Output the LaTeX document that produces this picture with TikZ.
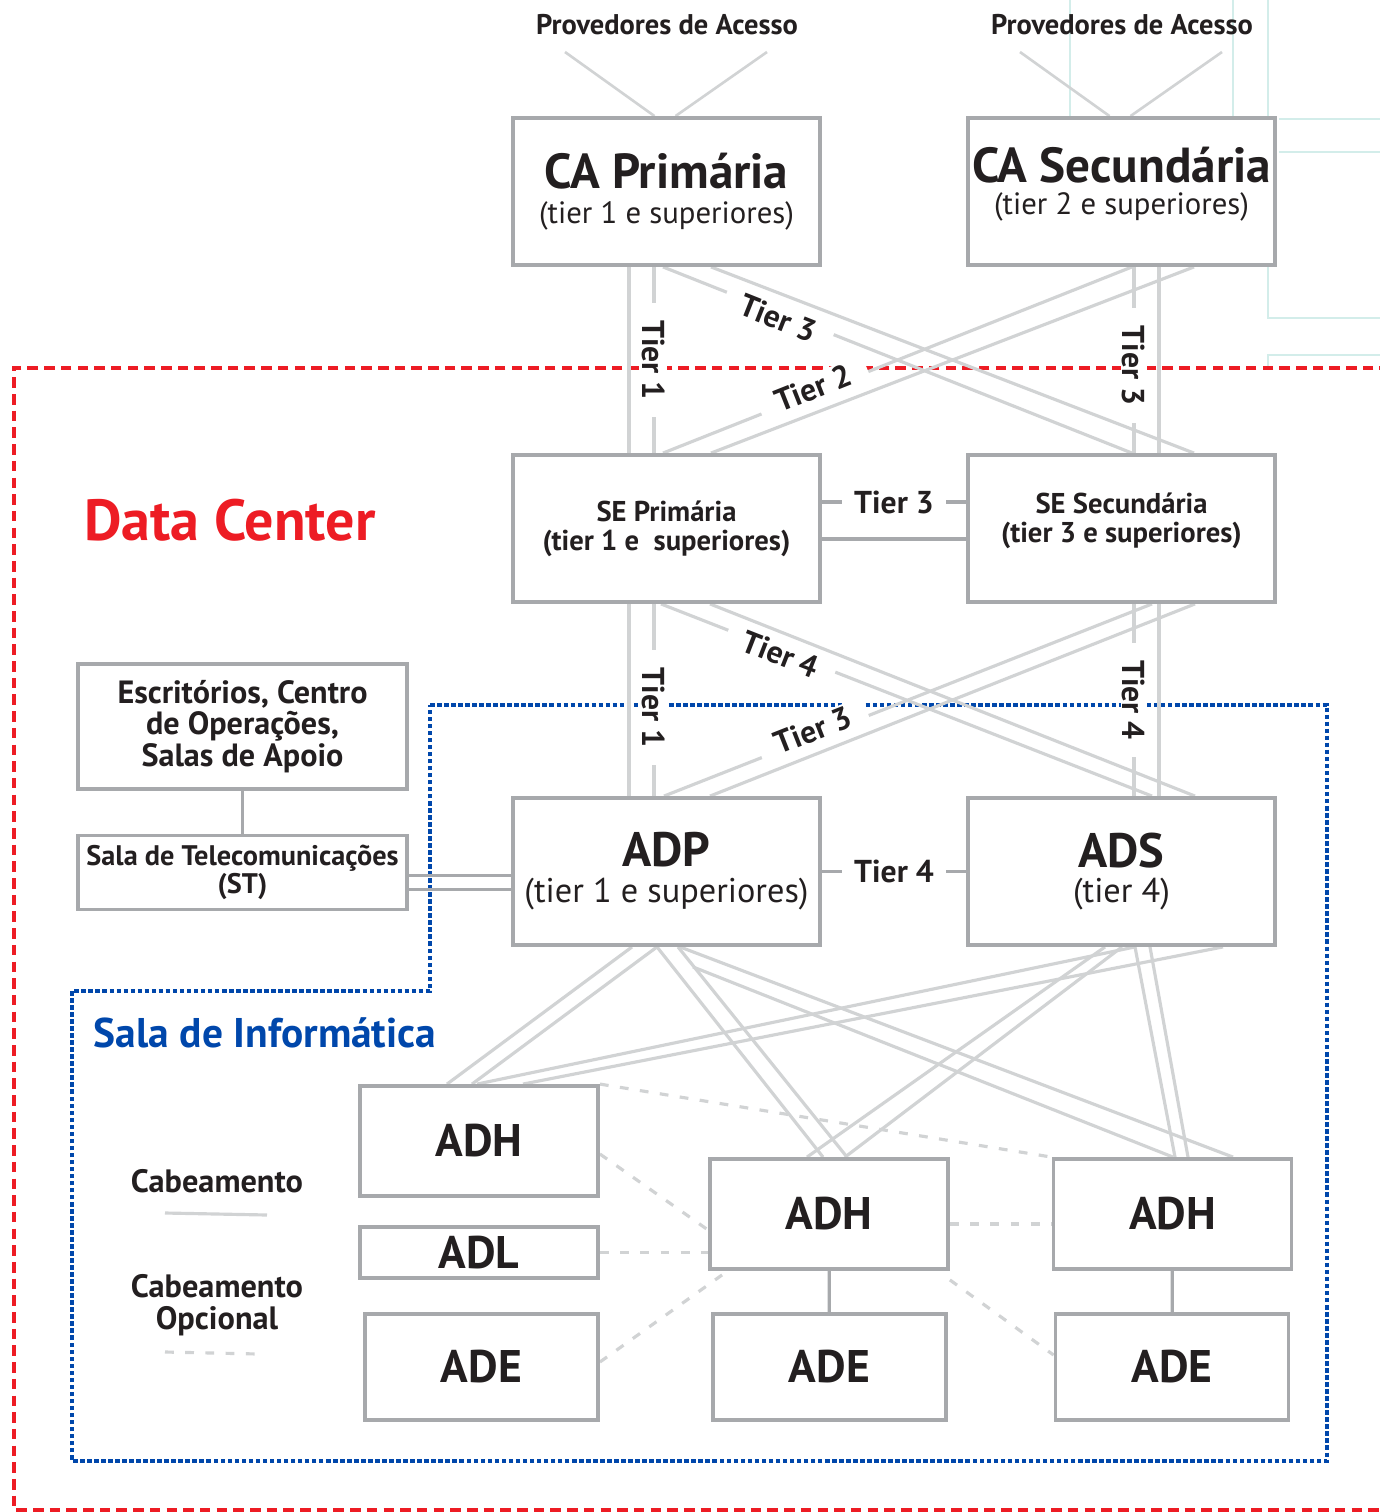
\documentclass[tikz,border=0pt]{standalone}
\usepackage{fontspec}
\setmainfont{PT Sans}
\definecolor{boxgray}{HTML}{A7A9AC}
\definecolor{cablegray}{HTML}{D1D3D4}
\definecolor{inkdark}{HTML}{231F20}
\definecolor{dcred}{HTML}{ED1C24}
\definecolor{roomblue}{HTML}{0047AB}
\definecolor{gridcyan}{HTML}{D3EDEA}
\usetikzlibrary{calc, backgrounds}
\newcommand{\ttlfont}{\fontsize{26}{28}\selectfont\bfseries}
\newcommand{\cafont}{\fontsize{28}{30}\selectfont\bfseries}
\newcommand{\adfont}{\fontsize{27.5}{30}\selectfont\bfseries}
\tikzset{
  box/.style={
    draw=boxgray, line width=2.2pt, fill=white, inner sep=0pt,
    align=center, text=inkdark
  },
  bigbox/.style={box, minimum width=6.14cm, minimum height=2.94cm},
  hbox/.style={box, minimum width=4.76cm, minimum height=2.2cm},
  ebox/.style={box, minimum width=4.66cm, minimum height=2.12cm},
  ttl/.style={font=\ttlfont},
  cable/.style={draw=cablegray, line width=1.8pt},
  optcable/.style={draw=cablegray, line width=1.8pt, dash pattern=on 5pt off 6.5pt},
  link/.style={draw=boxgray, line width=1.8pt},
  tier/.style={
    fill=white, text=inkdark, inner sep=1pt, inner xsep=10pt,
    font=\fontsize{18}{20}\selectfont\bfseries
  },
  prov/.style={text=inkdark, font=\fontsize{16.2}{18}\selectfont\bfseries},
  legend/.style={text=inkdark, align=center, font=\fontsize{18.4}{18}\selectfont\bfseries},
  dcborder/.style={draw=dcred, line width=2.2pt, dash pattern=on 6pt off 3.5pt},
  roomborder/.style={draw=roomblue, line width=1.8pt, dash pattern=on 2.6pt off 1.4pt},
  gridline/.style={draw=gridcyan, line width=1.1pt},
}

\begin{document}
\begin{tikzpicture}[x=0.02cm, y=-0.02cm]
  \useasboundingbox (0,0) rectangle (1380,1512);

  \node[prov] (prov1) at (667,25) {Provedores de Acesso};
  \node[prov] (prov2) at (1122,25) {Provedores de Acesso};

  \node[bigbox, font=\fontsize{17.5}{19.8}\selectfont] (capri) at (666.5,191.5)
    {{\cafont CA Primária}\\(tier 1 e superiores)};
  \node[bigbox, font=\fontsize{17.5}{18.7}\selectfont] (casec) at (1121.5,191.5)
    {{\cafont CA Secundária}\\(tier 2 e superiores)\\[-6.5pt]};

  \node[bigbox, font=\fontsize{16.3}{16.4}\selectfont\bfseries] (sepri) at (666.5,528.5)
    {SE Primária\\(tier 1 e\ \ superiores)};
  \node[bigbox, font=\fontsize{16.3}{16.4}\selectfont\bfseries] (sesec) at (1121.5,528.5)
    {SE Secundária\\(tier 3 e superiores)\\[-4pt]};

  \node[bigbox, font=\fontsize{19.5}{20.4}\selectfont] (adp) at (666.5,871.5)
    {{\adfont ADP}\\(tier 1 e superiores)};
  \node[bigbox, font=\fontsize{19.5}{20.4}\selectfont] (ads) at (1121.5,871.5)
    {{\adfont ADS}\\(tier 4)};

  \node[box, minimum width=6.58cm, minimum height=2.5cm,
        font=\fontsize{18.3}{17.9}\selectfont\bfseries] (esc) at (242.5,726.5)
    {Escritórios, Centro\\de Operações,\\Salas de Apoio};
  \node[box, minimum width=6.58cm, minimum height=1.48cm,
        font=\fontsize{16.1}{16}\selectfont\bfseries] (st) at (242.5,872.5)
    {Sala de Telecomunicações\\(ST)};

  \node[hbox, ttl] (adh1) at (479,1141) {ADH};
  \node[box, ttl, minimum width=4.76cm, minimum height=1.02cm] (adl) at (479,1252.5) {ADL};
  \node[ebox, ttl] (ade1) at (481.5,1367) {ADE};
  \node[hbox, ttl] (adh2) at (829,1214) {ADH};
  \node[ebox, ttl] (ade2) at (829.5,1367) {ADE};
  \node[hbox, ttl] (adh3) at (1172.5,1214) {ADH};
  \node[ebox, ttl] (ade3) at (1172,1367) {ADE};

  \node[text=dcred, font=\fontsize{33}{36}\selectfont\bfseries] (dclbl) at (230,520) {Data Center};
  \node[text=roomblue, font=\fontsize{23.6}{26}\selectfont\bfseries] (roomlbl) at (265,1033) {Sala de Informática};

  \node[legend] (leg1) at (217,1181) {Cabeamento};
  \node[legend] (leg2) at (217,1305) {Cabeamento\\Opcional};
  \coordinate (lg1a) at (165,1213);
  \coordinate (lg1b) at (267,1215);
  \coordinate (lg2a) at (165,1352);
  \coordinate (lg2b) at (258,1354);

  \coordinate (f1) at (565,52);
  \coordinate (f2) at (767,52);
  \coordinate (f3) at (1020,52);
  \coordinate (f4) at (1222,52);

  \begin{scope}[on background layer]
    \draw[gridline] (1070,0) -- (1070,116);
    \draw[gridline] (1233,0) -- (1233,116);
    \draw[gridline] (1268,0) -- (1268,318) -- (1380,318);
    \draw[gridline] (1279,119) -- (1380,119);
    \draw[gridline] (1279,152) -- (1380,152);
    \draw[gridline] (1380,355) -- (1268,355) -- (1268,368);

    \draw[dcborder] (1390,368) -- (14,368) -- (14,1510) -- (1390,1510);
    \draw[roomborder] (430,705) -- (1327,705) -- (1327,1461) -- (72,1461) -- (72,991) -- (430,991) -- cycle;

    \draw[cable, line width=1.5pt] (f1) -- ($(capri.north)+(-12,0)$);
    \draw[cable, line width=1.5pt] (f2) -- ($(capri.north)+(9,0)$);
    \draw[cable, line width=1.5pt] (f3) -- ($(casec.north)+(-12,0)$);
    \draw[cable, line width=1.5pt] (f4) -- ($(casec.north)+(9,0)$);

    \draw[cable] ($(capri.south)+(-37.5,0)$) -- ($(sepri.north)+(-37.5,0)$);
    \draw[cable] ($(capri.south)+(-12.5,0)$) -- node[tier, rotate=-90] {Tier 1} ($(sepri.north)+(-12.5,0)$);
    \draw[cable] ($(casec.south)+(37.5,0)$) -- ($(sesec.north)+(37.5,0)$);
    \draw[cable] ($(casec.south)+(12.5,0)$) -- node[tier, rotate=-90, pos=0.53] {Tier 3} ($(sesec.north)+(12.5,0)$);
    \draw[cable] ($(capri.south)+(44.5,0)$) -- ($(sesec.north)+(72.5,0)$);
    \draw[cable] ($(capri.south)+(-3.5,0)$) -- node[tier, sloped, pos=0.25, yshift=-3pt] {Tier 3} ($(sesec.north)+(10.5,0)$);
    \draw[cable] ($(casec.south)+(72.5,0)$) -- ($(sepri.north)+(44.5,0)$);
    \draw[cable] ($(casec.south)+(10.5,0)$) -- node[tier, sloped, pos=0.676, yshift=3pt] {Tier 2} ($(sepri.north)+(-3.5,0)$);

    \draw[cable] ($(sepri.south)+(-37.5,0)$) -- ($(adp.north)+(-37.5,0)$);
    \draw[cable] ($(sepri.south)+(-12.5,0)$) -- node[tier, rotate=-90, pos=0.54] {Tier 1} ($(adp.north)+(-12.5,0)$);
    \draw[cable] ($(sesec.south)+(37.5,0)$) -- ($(ads.north)+(37.5,0)$);
    \draw[cable] ($(sesec.south)+(12.5,0)$) -- node[tier, rotate=-90] {Tier 4} ($(ads.north)+(12.5,0)$);
    \draw[cable] ($(sepri.south)+(43.5,0)$) -- ($(ads.north)+(73.5,0)$);
    \draw[cable] ($(sepri.south)+(-5.5,0)$) -- node[tier, sloped, pos=0.246, yshift=-2pt] {Tier 4} ($(ads.north)+(30.5,0)$);
    \draw[cable] ($(sesec.south)+(73.5,0)$) -- ($(adp.north)+(43.5,0)$);
    \draw[cable] ($(sesec.south)+(30.5,0)$) -- node[tier, sloped, pos=0.69, yshift=4pt] {Tier 3} ($(adp.north)+(-2.5,0)$);

    \draw[cable] ($(adp.south)+(-34.5,0)$) -- ($(adh1.north)+(-32,0)$);
    \draw[cable] ($(adp.south)+(-9.5,0)$) -- ($(adh1.north)+(-7,0)$);
    \draw[cable] ($(adp.south)+(-9.5,0)$) -- ($(adh2.north)+(-6,0)$);
    \draw[cable] ($(adp.south)+(11.5,0)$) -- ($(adh2.north)+(18,0)$);
    \draw[cable] ($(adp.south)+(13.5,0)$) -- ($(adh3.north)+(60.5,0)$);
    \draw[cable] ($(adp.south)+(26.5,20)$) -- ($(adh3.north)+(0.5,0)$);
    \draw[cable] ($(ads.south)+(13.5,0)$) -- ($(adh1.north)+(-2,0)$);
    \draw[cable] ($(ads.south)+(101.5,0)$) -- ($(adh1.north)+(44,0)$);
    \draw[cable] ($(ads.south)+(-16.5,0)$) -- ($(adh2.north)+(-22,0)$);
    \draw[cable] ($(ads.south)+(0.5,0)$) -- ($(adh2.north)+(16,0)$);
    \draw[cable] ($(ads.south)+(13.5,0)$) -- ($(adh3.north)+(2.5,0)$);
    \draw[cable] ($(ads.south)+(28.5,0)$) -- ($(adh3.north)+(15.5,0)$);

    \draw[link, line width=1.5pt] ($(st.east)+(0,3)$) -- ($(adp.west)+(0,4)$);
    \draw[link, line width=1.5pt] ($(st.east)+(0,17)$) -- ($(adp.west)+(0,18)$);
    \draw[link] (esc) -- (st);
    \draw[link] ($(sepri.east)+(0,-26.5)$) -- node[tier, inner xsep=7pt] {Tier 3} ($(sesec.west)+(0,-26.5)$);
    \draw[link] ($(sepri.east)+(0,10.5)$) -- ($(sesec.west)+(0,10.5)$);
    \draw[link] (adp) -- node[tier, inner xsep=7pt] {Tier 4} (ads);
    \draw[link] (adh2) -- (ade2);
    \draw[link] (adh3) -- (ade3);

    \draw[optcable] (adh1.north east) -- (adh3.north west);
    \draw[optcable] ($(adh1.east)+(0,13)$) -- ($(adh2.west)+(0,16)$);
    \draw[optcable] (adl.east) -- (adl.east -| adh2.west);
    \draw[optcable] ($(ade1.east)+(0,-5)$) -- ($(adh2.south west)+(14,4)$);
    \draw[optcable] ($(adh2.east)+(0,10)$) -- ($(adh3.west)+(0,10)$);
    \draw[optcable] ($(adh2.south east)+(0,9)$) -- ($(ade3.west)+(0,-12)$);

    \draw[cable] (lg1a) -- (lg1b);
    \draw[optcable] (lg2a) -- (lg2b);
  \end{scope}
\end{tikzpicture}
\end{document}
